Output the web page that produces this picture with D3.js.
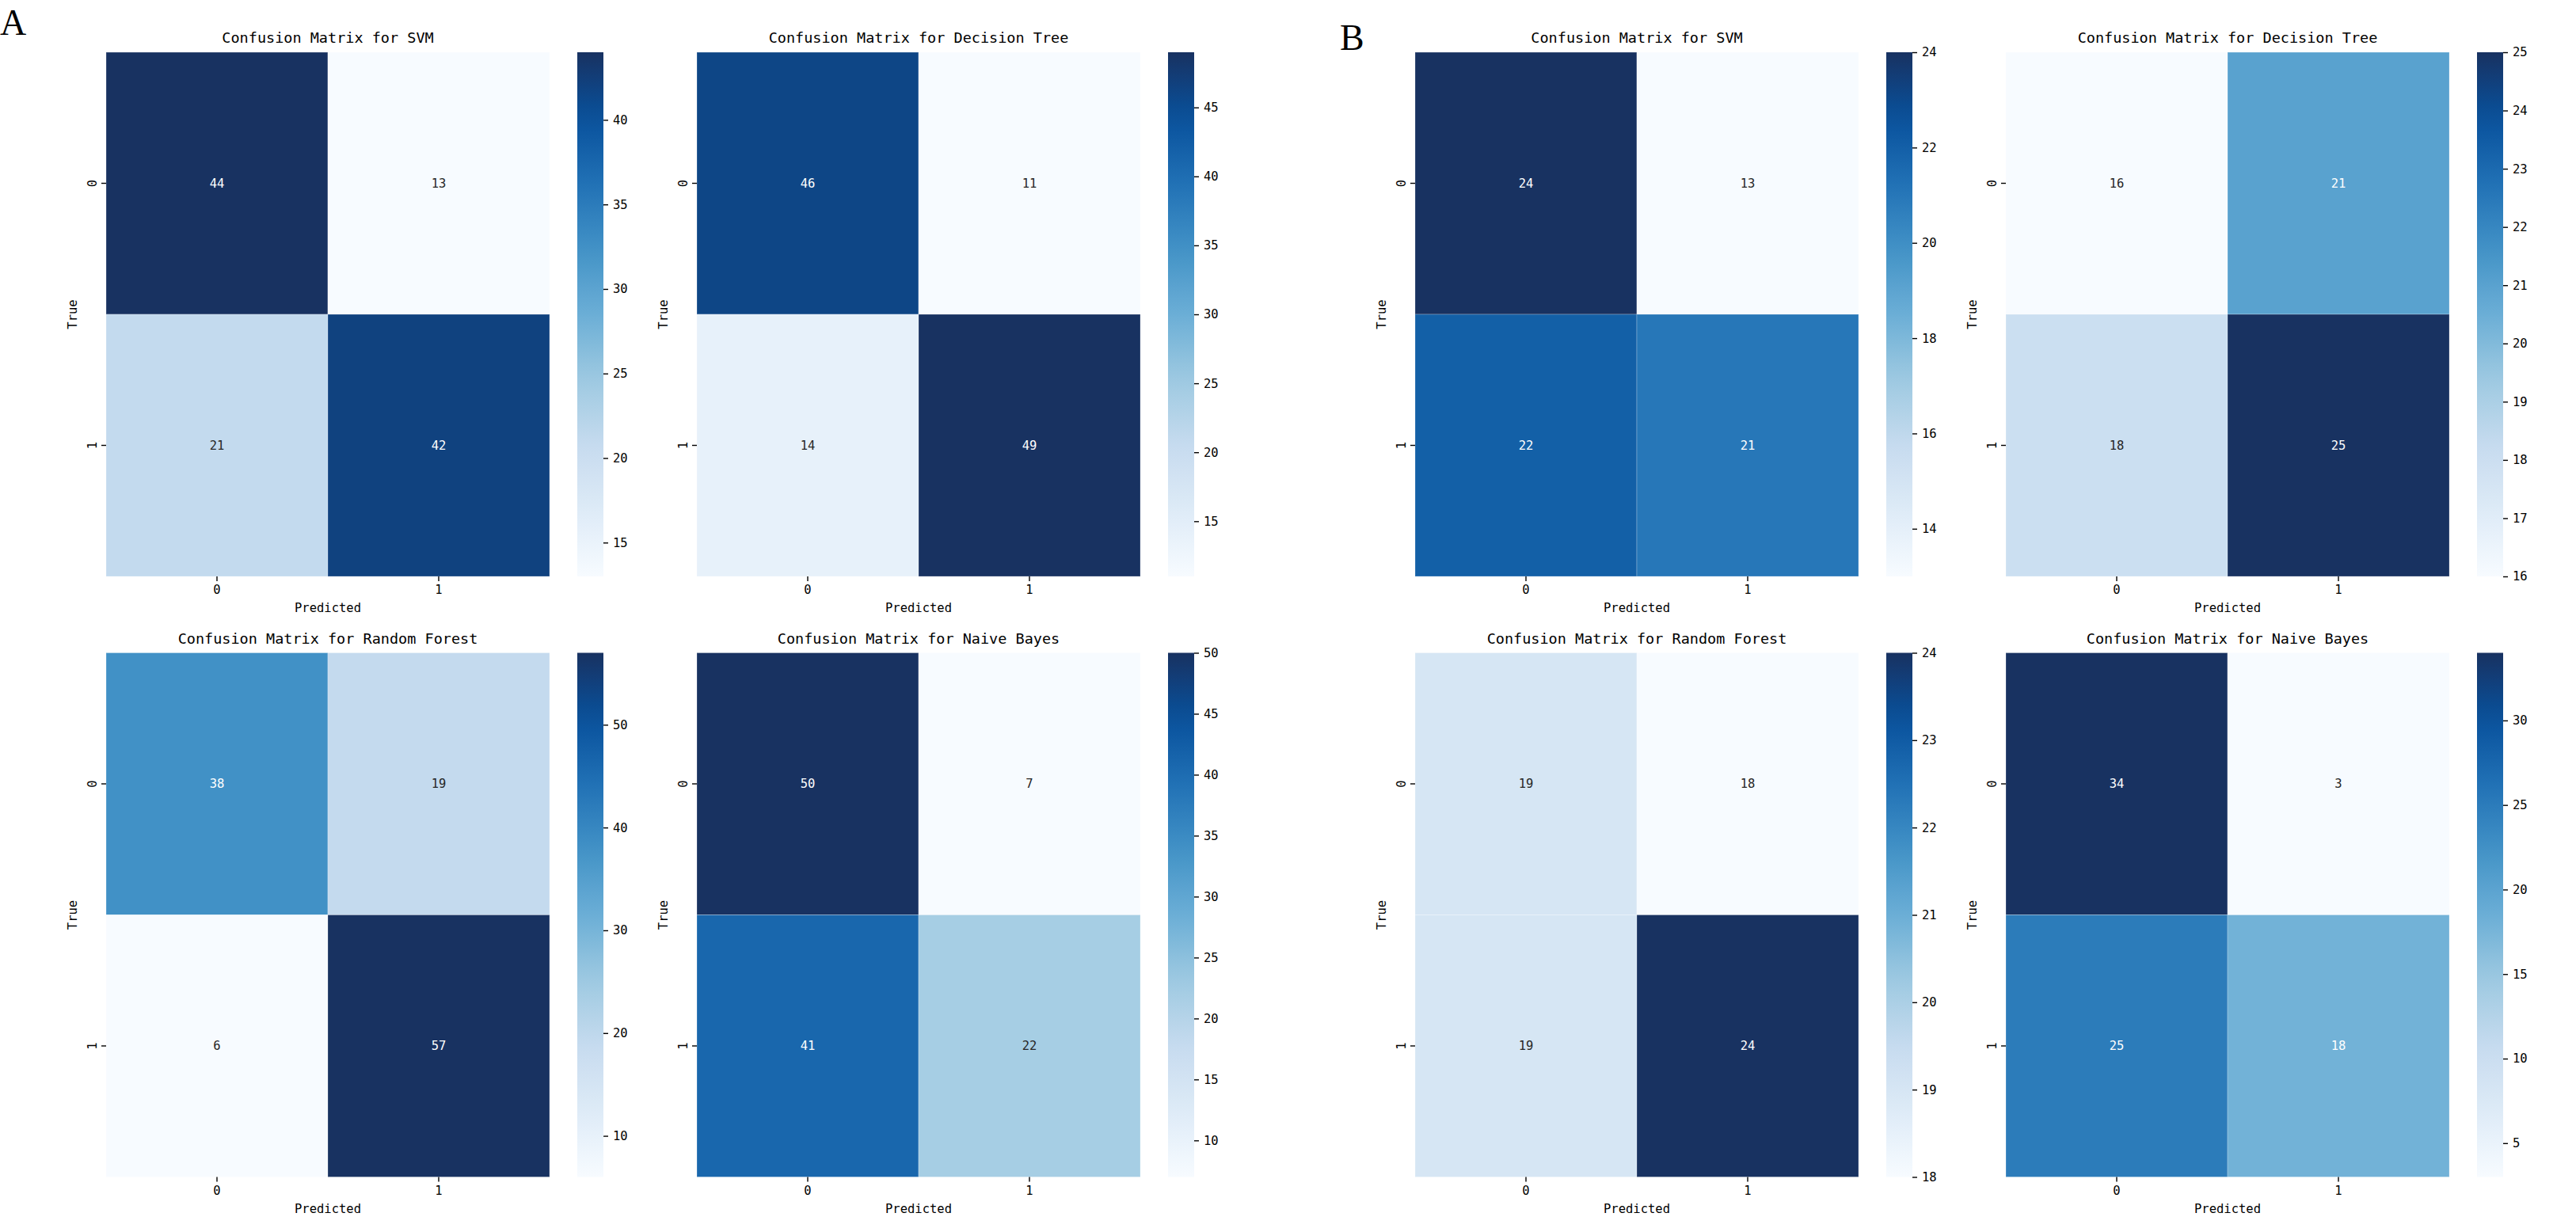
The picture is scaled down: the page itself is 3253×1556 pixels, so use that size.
<!DOCTYPE html>
<html>
<head>
<meta charset="utf-8">
<script src="https://cdn.jsdelivr.net/npm/d3@7/dist/d3.min.js"></script>
<style>
  body { margin: 0; background: #fff; }
  text { font-family: "DejaVu Sans Mono", monospace; fill: #000; }
</style>
</head>
<body>
<div id="chart-area"></div>
<script>
'use strict';

// data
let modelNames = ['SVM', 'Decision Tree', 'Random Forest', 'Naive Bayes'];
let classLabels = ['0', '1'];

let matricesA = [
    [[44, 13], [21, 42]],
    [[46, 11], [14, 49]],
    [[38, 19], [6, 57]],
    [[50, 7], [41, 22]],
];
let matricesB = [
    [[24, 13], [22, 21]],
    [[16, 21], [18, 25]],
    [[19, 18], [19, 24]],
    [[34, 3], [25, 18]],
];

let ticksA = [
    [15, 20, 25, 30, 35, 40],
    [15, 20, 25, 30, 35, 40, 45],
    [10, 20, 30, 40, 50],
    [10, 15, 20, 25, 30, 35, 40, 45, 50],
];
let ticksB = [
    [14, 16, 18, 20, 22, 24],
    [16, 17, 18, 19, 20, 21, 22, 23, 24, 25],
    [18, 19, 20, 21, 22, 23, 24],
    [5, 10, 15, 20, 25, 30],
];

let groupLetters = ['A', 'B'];

// layout
let W = 3253, H = 1556;
let hmW = 560, hmH = 662;
let cbGap = 35, cbW = 33;
let groupX = [134, 1787];
let colStep = 746;
let rowY = [66, 824.5];
let letterPos = [[0, 44], [1692, 63]];

// matplotlib "Blues"
let bluesStops = ['#f7fbff', '#deebf7', '#c6dbef', '#9ecae1', '#6baed6',
    '#4292c6', '#2171b5', '#08519c', '#183261'];
let blues = d3.piecewise(d3.interpolateRgb, bluesStops);

function luminance(c) {
    let rgb = d3.rgb(c);
    let f = (v) => {
        v = v / 255;
        return v <= 0.03928 ? v / 12.92 : Math.pow((v + 0.055) / 1.055, 2.4);
    };
    return 0.2126 * f(rgb.r) + 0.7152 * f(rgb.g) + 0.0722 * f(rgb.b);
}

let svg = d3.select('#chart-area').append('svg')
    .attr('width', W)
    .attr('height', H);

let defs = svg.append('defs');
let gradId = 0;

function drawPanel(x0, y0, matrix, title, ticks) {
    let g = svg.append('g')
        .attr('transform', 'translate(' + x0 + ',' + y0 + ')');

    let flat = matrix.flat();
    let vmin = d3.min(flat), vmax = d3.max(flat);

    let colour = d3.scaleSequential(blues).domain([vmin, vmax]);

    let x = d3.scaleBand().domain(classLabels).range([0, hmW]);
    let y = d3.scaleBand().domain(classLabels).range([0, hmH]);

    let cells = [];
    matrix.forEach((row, i) => {
        row.forEach((v, j) => {
            cells.push({ r: classLabels[i], c: classLabels[j], v: v });
        });
    });

    g.selectAll('rect.cell')
        .data(cells)
        .enter()
        .append('rect')
            .attr('class', 'cell')
            .attr('x', (d) => x(d.c))
            .attr('y', (d) => y(d.r))
            .attr('width', x.bandwidth())
            .attr('height', y.bandwidth())
            .attr('fill', (d) => colour(d.v))
            .attr('stroke', 'rgba(255,255,255,0.25)')
            .attr('stroke-width', 1);

    g.selectAll('text.annot')
        .data(cells)
        .enter()
        .append('text')
            .attr('class', 'annot')
            .attr('x', (d) => x(d.c) + x.bandwidth() / 2)
            .attr('y', (d) => y(d.r) + y.bandwidth() / 2)
            .attr('dy', '0.35em')
            .attr('text-anchor', 'middle')
            .attr('font-size', '15.5px')
            .style('fill', (d) => luminance(colour(d.v)) > 0.408 ? '#262626' : '#ffffff')
            .text((d) => d.v);

    // axes
    let xAxis = g.append('g')
        .attr('transform', 'translate(0,' + hmH + ')')
        .call(d3.axisBottom(x).tickSize(6).tickPadding(5));
    let yAxis = g.append('g')
        .call(d3.axisLeft(y).tickSize(6).tickPadding(5));
    [xAxis, yAxis].forEach((a) => {
        a.select('.domain').remove();
        a.selectAll('line').attr('stroke', '#000').attr('stroke-width', 1.4);
        a.selectAll('text').attr('font-size', '15.5px').attr('font-family', '"DejaVu Sans Mono", monospace');
    });
    yAxis.selectAll('text')
        .attr('text-anchor', 'middle')
        .attr('dy', 0)
        .attr('x', 0)
        .attr('transform', 'translate(-17,0) rotate(-90)')
        .attr('dominant-baseline', 'central');

    g.append('text')
        .attr('x', hmW / 2)
        .attr('y', hmH + 45)
        .attr('text-anchor', 'middle')
        .attr('font-size', '15.5px')
        .text('Predicted');

    g.append('text')
        .attr('transform', 'translate(-37,' + (hmH / 2) + ') rotate(-90)')
        .attr('text-anchor', 'middle')
        .attr('font-size', '15.5px')
        .text('True');

    g.append('text')
        .attr('x', hmW / 2)
        .attr('y', -12)
        .attr('text-anchor', 'middle')
        .attr('font-size', '18.5px')
        .text(title);

    // colorbar
    let id = 'grad' + (gradId++);
    let grad = defs.append('linearGradient')
        .attr('id', id)
        .attr('x1', 0).attr('y1', 1)
        .attr('x2', 0).attr('y2', 0);
    d3.range(0, 1.0001, 0.05).forEach((t) => {
        grad.append('stop')
            .attr('offset', t)
            .attr('stop-color', colour(vmin + t * (vmax - vmin)));
    });

    let cb = g.append('g')
        .attr('transform', 'translate(' + (hmW + cbGap) + ',0)');
    cb.append('rect')
        .attr('width', cbW)
        .attr('height', hmH)
        .attr('fill', 'url(#' + id + ')');

    let cbScale = d3.scaleLinear().domain([vmin, vmax]).range([hmH, 0]);
    let cbAxis = cb.append('g')
        .attr('transform', 'translate(' + cbW + ',0)')
        .call(d3.axisRight(cbScale).tickValues(ticks).tickFormat(d3.format('d'))
            .tickSize(6).tickPadding(6));
    cbAxis.select('.domain').remove();
    cbAxis.selectAll('line').attr('stroke', '#000').attr('stroke-width', 1.4);
    cbAxis.selectAll('text').attr('font-size', '15.5px').attr('font-family', '"DejaVu Sans Mono", monospace');
}

[matricesA, matricesB].forEach((mats, gi) => {
    let tks = gi === 0 ? ticksA : ticksB;
    mats.forEach((m, k) => {
        let col = k % 2, row = Math.floor(k / 2);
        drawPanel(groupX[gi] + col * colStep, rowY[row], m,
            'Confusion Matrix for ' + modelNames[k], tks[k]);
    });
    svg.append('text')
        .attr('x', letterPos[gi][0])
        .attr('y', letterPos[gi][1])
        .attr('font-size', '46px')
        .style('font-family', '"Liberation Serif", serif')
        .text(groupLetters[gi]);
});
</script>
</body>
</html>
